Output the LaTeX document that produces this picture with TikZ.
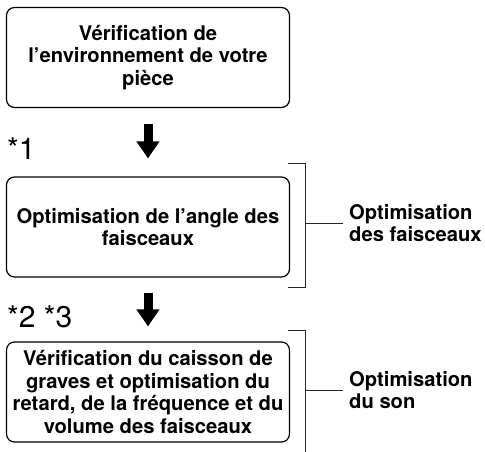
\documentclass[tikz,border=0pt]{standalone}
\usepackage{fontspec}
\setmainfont{TeX Gyre Heros}
\usetikzlibrary{arrows.meta}
\begin{document}
\begin{tikzpicture}[x=1pt,y=-1pt,
  box/.style={draw=black, line width=1.2pt, rounded corners=8pt, minimum width=283pt, minimum height=100pt, align=center, inner sep=0pt, font=\fontsize{20.2}{22.5}\selectfont\bfseries},
  lbl/.style={anchor=west, align=left, inner sep=0pt, font=\fontsize{20.2}{22.5}\selectfont\bfseries},
  note/.style={anchor=base west, inner sep=0pt, font=\fontsize{30}{32}\selectfont},
  bigarrow/.style={line width=9pt, -{Triangle[width=22pt,length=17pt]}},
  brk/.style={line width=1pt, draw=black!85}]
\useasboundingbox (0,0) rectangle (485,452);
% boxes
\node[box] (b1) at (148,57.5) {Vérification de\\l’environnement de votre\\pièce};
\node[box] (b2) at (148,227) {Optimisation de l’angle des\\faisceaux};
\node[box] (b3) at (148,392) {Vérification du caisson de\\graves et optimisation du\\retard, de la fréquence et du\\volume des faisceaux};
% arrows
\draw[bigarrow, shorten <=16pt, shorten >=18pt] (b1.south) -- (b2.north);
\draw[bigarrow, shorten <=15pt, shorten >=15pt] (b2.south) -- (b3.north);
% notes
\node[note] (n1) at (7,159) {*1};
\node[note] (n2) at (7,327) {*2 *3};
% labels
\node[lbl] (l1) at (349,223) {Optimisation\\des faisceaux};
\node[lbl] (l2) at (349,390) {Optimisation\\du son};
% brackets
\coordinate (k1a) at (288,163);
\coordinate (k1b) at (305,163);
\coordinate (k1c) at (305,287);
\coordinate (k1d) at (288,287);
\coordinate (k1m) at (305,223);
\draw[brk] (k1a) -- (k1b) -- (k1c) -- (k1d);
\draw[brk, shorten >=6pt] (k1m) -- (l1.west);
\coordinate (k2a) at (288,330);
\coordinate (k2b) at (305,330);
\coordinate (k2c) at (305,452);
\coordinate (k2m) at (305,390);
\draw[brk] (k2a) -- (k2b) -- (k2c);
\draw[brk, shorten >=6pt] (k2m) -- (l2.west);
\end{tikzpicture}
\end{document}
